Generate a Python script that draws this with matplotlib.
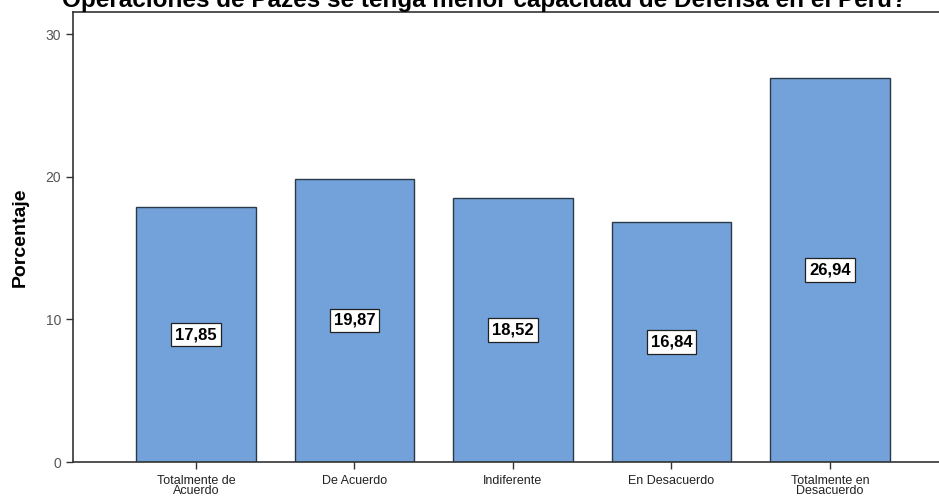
import numpy as np
import matplotlib
matplotlib.use("Agg")
import matplotlib.pyplot as plt

plt.rcParams['font.family'] = ['Liberation Sans', 'DejaVu Sans']

categorias = ["Totalmente de\nAcuerdo", "De Acuerdo", "Indiferente",
              "En Desacuerdo", "Totalmente en\nDesacuerdo"]
porcentajes = [17.85, 19.87, 18.52, 16.84, 26.94]
titulo = "Operaciones de Pazes se tenga menor capacidad de Defensa en el Perú?"

fig = plt.figure(figsize=(9.39, 4.96), dpi=100)
ax = fig.add_axes([73 / 939, 1 - 462 / 496, 1.0, (462 - 12) / 496])

x = np.arange(len(categorias))
ax.bar(x, porcentajes, width=0.757, color='#72a2d9', edgecolor='#2b3a4a', linewidth=1.0)

for xi, v in zip(x, porcentajes):
    ax.text(xi, v / 2, f"{v:.2f}".replace('.', ','), ha='center', va='center',
            fontsize=12, fontweight='bold', color='black',
            bbox=dict(boxstyle='square,pad=0.25', facecolor='white', edgecolor='#222222', linewidth=0.9))

ax.set_xlim(-0.776, -0.776 + 939 / 158.5)
ax.set_ylim(0, 31.55)
ax.set_yticks([0, 10, 20, 30])
ax.set_xticks(x)
ax.set_xticklabels(categorias, fontsize=9, linespacing=0.8, color='#222222')
ax.tick_params(axis='y', labelsize=10, labelcolor='#555555', color='#333333', length=5, width=1)
ax.tick_params(axis='x', length=5, width=1, pad=4, color='#333333')
for s in ax.spines.values():
    s.set_color('#333333')
    s.set_linewidth(1.2)

ax.set_ylabel("Porcentaje", fontsize=14, fontweight='bold', labelpad=12)
fig.text(0.516, 1 - 7 / 496, titulo, ha='center', va='baseline', fontsize=17.5, fontweight='bold')

fig.savefig("out.png", dpi=100)
